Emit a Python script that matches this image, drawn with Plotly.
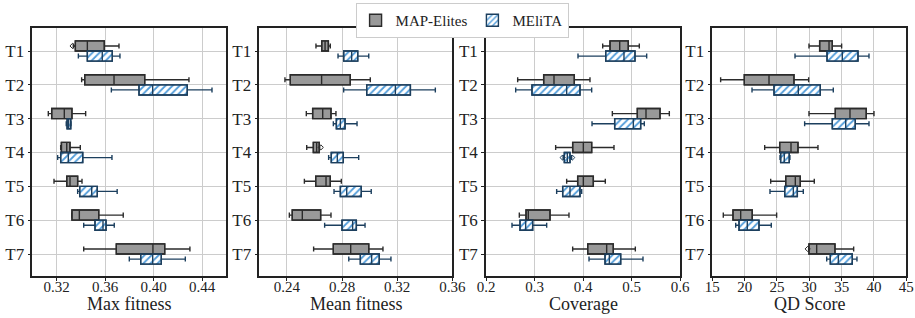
import plotly.graph_objects as go
from plotly.subplots import make_subplots

tasks = ["T1", "T2", "T3", "T4", "T5", "T6", "T7"]
methods = ["MAP-Elites", "MEliTA"]

# Box statistics per metric: [lower whisker, q1, median, q3, upper whisker] per task
max_me = [[0.3338, 0.3355, 0.3454, 0.3594, 0.3715], [0.3407, 0.3432, 0.3674, 0.3927, 0.4292],
          [0.3132, 0.3160, 0.3264, 0.3327, 0.3440], [0.3234, 0.3240, 0.3284, 0.3311, 0.3396],
          [0.3179, 0.3284, 0.3311, 0.3374, 0.3410], [0.3325, 0.3327, 0.3388, 0.3548, 0.3750],
          [0.3424, 0.3693, 0.3995, 0.4092, 0.4300]]
max_mt = [[0.3380, 0.3454, 0.3577, 0.3660, 0.3723], [0.3652, 0.3880, 0.3993, 0.4278, 0.4482],
          [0.3280, 0.3287, 0.3300, 0.3317, 0.3320], [0.3209, 0.3234, 0.3297, 0.3416, 0.3657],
          [0.3374, 0.3391, 0.3490, 0.3536, 0.3700], [0.3424, 0.3517, 0.3583, 0.3608, 0.3676],
          [0.3800, 0.3894, 0.3993, 0.4064, 0.4262]]
mean_me = [[0.2611, 0.2653, 0.2677, 0.2701, 0.2715], [0.2386, 0.2425, 0.2652, 0.2860, 0.3005],
           [0.2541, 0.2587, 0.2660, 0.2720, 0.2756], [0.2544, 0.2592, 0.2616, 0.2635, 0.2638],
           [0.2527, 0.2609, 0.2684, 0.2715, 0.2795], [0.2418, 0.2439, 0.2512, 0.2645, 0.2720],
           [0.2594, 0.2737, 0.2863, 0.2994, 0.3097]]
mean_mt = [[0.2771, 0.2812, 0.2870, 0.2914, 0.2994], [0.2812, 0.2979, 0.3187, 0.3296, 0.3477],
           [0.2737, 0.2759, 0.2788, 0.2822, 0.2909], [0.2703, 0.2722, 0.2766, 0.2809, 0.2921],
           [0.2742, 0.2788, 0.2834, 0.2940, 0.3012], [0.2674, 0.2800, 0.2877, 0.2904, 0.2967],
           [0.2849, 0.2933, 0.3015, 0.3070, 0.3155]]
cov_me = [[0.4406, 0.4557, 0.4757, 0.4934, 0.5161], [0.2653, 0.3189, 0.3402, 0.3821, 0.4144],
          [0.4605, 0.5120, 0.5299, 0.5588, 0.5780], [0.3436, 0.3787, 0.4007, 0.4179, 0.4639],
          [0.3663, 0.3890, 0.4007, 0.4213, 0.4460], [0.2687, 0.2825, 0.2872, 0.3320, 0.3711],
          [0.3787, 0.4097, 0.4488, 0.4625, 0.5079]]
cov_mt = [[0.3897, 0.4468, 0.4845, 0.5072, 0.5313], [0.2612, 0.2948, 0.3663, 0.3938, 0.4179],
          [0.4186, 0.4653, 0.5038, 0.5189, 0.5264], [0.3590, 0.3615, 0.3677, 0.3732, 0.3766],
          [0.3457, 0.3581, 0.3732, 0.3938, 0.3973], [0.2536, 0.2701, 0.2818, 0.2962, 0.3251],
          [0.4124, 0.4454, 0.4543, 0.4777, 0.5237]]
qd_me = [[29.95, 31.60, 33.05, 33.56, 35.00], [16.29, 19.95, 23.77, 27.63, 29.90],
         [29.95, 34.02, 36.29, 38.81, 40.00], [23.10, 25.42, 27.17, 28.25, 31.34],
         [24.03, 26.35, 27.84, 28.61, 30.77], [16.70, 18.20, 19.39, 21.18, 24.95],
         [29.90, 29.95, 31.14, 33.97, 36.86]]
qd_mt = [[27.79, 32.74, 35.10, 37.53, 39.23], [21.14, 24.54, 28.30, 31.70, 33.71],
         [29.28, 33.56, 35.63, 37.11, 39.23], [25.47, 25.57, 26.13, 26.90, 27.00],
         [23.92, 26.20, 27.53, 28.15, 29.07], [18.62, 19.13, 20.41, 22.22, 24.12],
         [32.69, 33.25, 34.49, 36.65, 37.37]]

# Outliers: (metric index, method index, task index, value)
fliers = [(0, 0, 0, 0.3332), (1, 0, 3, 0.2646), (2, 1, 3, 0.3580),
          (2, 1, 3, 0.3778), (3, 0, 6, 29.75)]

metric_titles = ["Max fitness", "Mean fitness", "Coverage", "QD Score"]
metric_data = [(max_me, max_mt), (mean_me, mean_mt), (cov_me, cov_mt), (qd_me, qd_mt)]
x_ranges = [[0.30, 0.46], [0.22, 0.36], [0.2, 0.6], [15, 45]]
x_ticks = [[0.32, 0.36, 0.40, 0.44], [0.24, 0.28, 0.32, 0.36],
           [0.2, 0.3, 0.4, 0.5, 0.6], [15, 20, 25, 30, 35, 40, 45]]
x_ticktext = [["0.32", "0.36", "0.40", "0.44"], ["0.24", "0.28", "0.32", "0.36"],
              ["0.2", "0.3", "0.4", "0.5", "0.6"], ["15", "20", "25", "30", "35", "40", "45"]]

W, H = 915, 318
x_domains_px = [(32.3, 226.3), (259.3, 452.3), (486, 680), (712.3, 906.3)]
y_domain = [1 - 276 / H, 1 - 28 / H]

FONT = "Liberation Serif"
TXT = "#222222"
GREY = "#999999"
EDGE_ME = "#2b2b2b"
EDGE_MT = "#1c3f5e"
HATCH = "#4f9bd9"
BOX_W = 0.3
OFF = 0.15

fig = make_subplots(rows=1, cols=4)

for k, (me, mt) in enumerate(metric_data):
    col = k + 1
    for m, (stats, offset) in enumerate([(me, -OFF), (mt, OFF)]):
        pos = [i + offset for i in range(len(tasks))]
        lo = [s[0] for s in stats]
        q1 = [s[1] for s in stats]
        med = [s[2] for s in stats]
        q3 = [s[3] for s in stats]
        hi = [s[4] for s in stats]
        edge = EDGE_ME if m == 0 else EDGE_MT
        if m == 0:
            marker = dict(color=GREY, line=dict(color=edge, width=1.4))
        else:
            marker = dict(color="white", line=dict(color=edge, width=1.4),
                          pattern=dict(shape="/", fgcolor=HATCH, bgcolor="white",
                                       size=5, solidity=0.35, fillmode="replace"))
        fig.add_trace(go.Bar(
            y=pos, x=[b - a for a, b in zip(q1, q3)], base=q1, orientation="h",
            width=BOX_W, marker=marker, name=methods[m],
            showlegend=(k == 0), legendgroup=methods[m], hoverinfo="skip"),
            row=1, col=col)
        fig.add_trace(go.Box(
            y=pos, q1=q1, median=med, q3=q3, lowerfence=lo, upperfence=hi,
            orientation="h", width=BOX_W, whiskerwidth=0.5,
            fillcolor="rgba(0,0,0,0)", line=dict(color=edge, width=1.4),
            name=methods[m], showlegend=False, legendgroup=methods[m],
            boxpoints=False),
            row=1, col=col)
        fx = [f[3] for f in fliers if f[0] == k and f[1] == m]
        fy = [f[2] + offset for f in fliers if f[0] == k and f[1] == m]
        if fx:
            fig.add_trace(go.Scatter(
                x=fx, y=fy, mode="markers", showlegend=False, hoverinfo="skip",
                marker=dict(symbol="diamond-open", size=4, color=edge,
                            line=dict(width=1, color=edge))),
                row=1, col=col)

for k in range(4):
    xa = "xaxis" if k == 0 else f"xaxis{k + 1}"
    ya = "yaxis" if k == 0 else f"yaxis{k + 1}"
    x0, x1 = x_domains_px[k]
    fig.layout[xa].update(
        domain=[x0 / W, x1 / W], range=x_ranges[k], tickvals=x_ticks[k],
        ticktext=x_ticktext[k], showgrid=True, gridcolor="#cccccc", gridwidth=1,
        showline=True, linecolor=TXT, linewidth=1.5, mirror=True,
        ticks="outside", ticklen=3, tickcolor=TXT, zeroline=False, automargin=False,
        ticklabelstandoff=-7,
        tickfont=dict(family=FONT, size=15, color=TXT))
    fig.layout[ya].update(
        domain=y_domain, range=[6.65, -0.68], tickvals=list(range(len(tasks))),
        ticktext=tasks, showgrid=True, gridcolor="#cccccc", gridwidth=1,
        showline=True, linecolor=TXT, linewidth=1.5, mirror=True,
        ticks="outside", ticklen=3, tickcolor=TXT, zeroline=False, automargin=False,
        tickfont=dict(family=FONT, size=17, color=TXT))
    fig.add_annotation(
        text=metric_titles[k], xref="paper", yref="paper",
        x=(x0 + x1) / 2 / W, y=1 - 304 / H, xanchor="center", yanchor="middle",
        showarrow=False, font=dict(family=FONT, size=18, color=TXT))

fig.update_layout(
    width=W, height=H, margin=dict(l=0, r=0, t=0, b=0),
    paper_bgcolor="white", plot_bgcolor="white",
    barmode="overlay", boxmode="overlay",
    font=dict(family=FONT, color=TXT),
    legend=dict(orientation="h", x=0.505, xanchor="center", y=1 - 3 / H, yanchor="top",
                bordercolor="#cccccc", borderwidth=1, bgcolor="white",
                font=dict(family=FONT, size=15, color=TXT),
                itemwidth=30, tracegroupgap=0),
)

fig.write_html("out.html", config={"displayModeBar": False},
               post_script="document.body.style.margin='0';")
